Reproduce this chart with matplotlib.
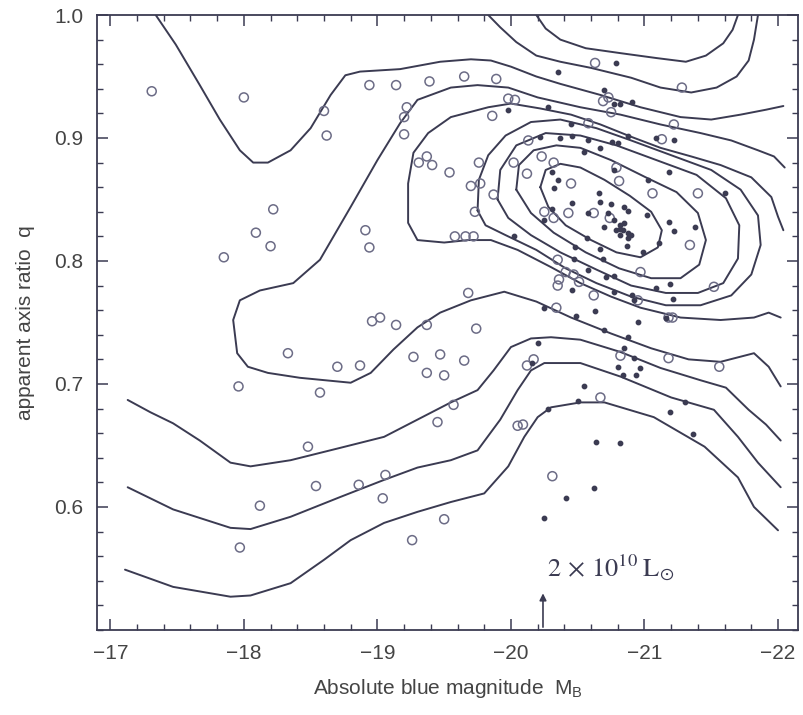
import matplotlib
matplotlib.use("Agg")
import matplotlib.pyplot as plt
from matplotlib.ticker import MultipleLocator

plt.rcParams.update({"font.family": ["Liberation Sans", "DejaVu Sans"], "font.size": 15,
                     "xtick.direction": "in", "ytick.direction": "in",
                     "xtick.top": True, "ytick.right": True})

ink = "#3b3b52"
ring = "#6c6c86"

# open circles (M_B, q)
open_mb = [-17.31, -18.00, -18.60, -18.62, -18.94, -19.14, -18.22, -18.09, -18.20, -17.85,
           -18.91, -18.94, -18.96, -19.02, -19.14, -18.33, -18.70, -18.87, -17.96, -18.57,
           -18.48, -18.54, -18.86, -19.06, -19.04, -18.12, -17.97, -19.39, -19.65, -19.89,
           -19.98, -20.03, -19.22, -19.20, -19.20, -19.86, -19.31, -19.37, -19.41, -19.54,
           -19.76, -19.70, -19.77, -19.87, -19.73, -20.02, -20.12, -20.13, -20.23, -20.32,
           -20.45, -20.25, -20.32, -20.43, -19.58, -19.66, -19.72, -20.35, -20.41, -20.36,
           -20.35, -20.47, -20.51, -19.68, -20.34, -19.37, -19.74, -20.63, -21.28, -20.73,
           -20.69, -20.75, -20.58, -21.22, -21.13, -20.79, -20.81, -21.06, -21.40, -20.62,
           -20.74, -21.34, -20.97, -21.52, -20.62, -20.95, -21.21, -21.18, -19.27, -19.47,
           -19.65, -19.37, -19.50, -19.57, -19.45, -20.12, -20.17, -20.05, -20.09, -20.31,
           -19.50, -19.26, -20.82, -21.18, -21.56, -20.67]
open_q = [0.938, 0.933, 0.922, 0.902, 0.943, 0.943, 0.842, 0.823, 0.812, 0.803,
          0.825, 0.811, 0.751, 0.754, 0.748, 0.725, 0.714, 0.715, 0.698, 0.693,
          0.649, 0.617, 0.618, 0.626, 0.607, 0.601, 0.567, 0.946, 0.950, 0.948,
          0.932, 0.931, 0.925, 0.917, 0.903, 0.918, 0.880, 0.885, 0.878, 0.872,
          0.880, 0.861, 0.863, 0.854, 0.840, 0.880, 0.871, 0.898, 0.885, 0.880,
          0.863, 0.840, 0.835, 0.839, 0.820, 0.820, 0.820, 0.801, 0.791, 0.785,
          0.780, 0.789, 0.783, 0.774, 0.762, 0.748, 0.745, 0.961, 0.941, 0.933,
          0.930, 0.921, 0.912, 0.911, 0.899, 0.876, 0.865, 0.855, 0.855, 0.839,
          0.835, 0.813, 0.791, 0.779, 0.772, 0.768, 0.754, 0.754, 0.722, 0.724,
          0.719, 0.709, 0.707, 0.683, 0.669, 0.715, 0.720, 0.666, 0.667, 0.625,
          0.590, 0.573, 0.723, 0.721, 0.714, 0.689]

# filled dots (M_B, q)
dot_mb = [-20.35, -20.79, -20.70, -20.77, -20.82, -20.91, -19.98, -20.28, -20.45, -20.46,
          -20.22, -20.37, -20.58, -20.67, -20.76, -20.80, -20.88, -21.09, -21.22, -20.55,
          -20.31, -20.35, -20.32, -21.18, -21.03, -21.60, -20.77, -20.66, -20.67, -20.46,
          -20.58, -20.31, -20.25, -20.75, -20.85, -20.88, -20.73, -20.77, -20.70, -20.79,
          -20.82, -20.84, -20.88, -20.88, -20.90, -20.82, -20.85, -20.82, -21.02, -21.18,
          -21.22, -21.38, -21.11, -20.99, -20.87, -20.67, -20.57, -20.48, -20.47, -20.69,
          -20.02, -20.58, -20.71, -20.77, -21.19, -21.09, -20.46, -20.77, -20.91, -20.92,
          -21.21, -20.25, -20.49, -20.63, -20.95, -21.16, -20.70, -20.20, -20.16, -20.88,
          -20.85, -20.92, -20.97, -20.80, -20.84, -20.94, -20.55, -20.50, -20.28, -21.30,
          -21.19, -21.36, -20.64, -20.82, -20.62, -20.41, -20.25]
dot_q = [0.954, 0.961, 0.939, 0.928, 0.928, 0.929, 0.923, 0.925, 0.911, 0.902,
         0.901, 0.900, 0.898, 0.892, 0.897, 0.896, 0.902, 0.900, 0.898, 0.889,
         0.872, 0.866, 0.859, 0.872, 0.866, 0.855, 0.874, 0.855, 0.848, 0.847,
         0.839, 0.842, 0.833, 0.846, 0.844, 0.841, 0.839, 0.833, 0.828, 0.825,
         0.829, 0.825, 0.823, 0.819, 0.821, 0.826, 0.831, 0.821, 0.837, 0.832,
         0.824, 0.828, 0.815, 0.807, 0.812, 0.810, 0.819, 0.811, 0.802, 0.802,
         0.820, 0.793, 0.787, 0.788, 0.781, 0.778, 0.776, 0.775, 0.772, 0.768,
         0.769, 0.762, 0.755, 0.759, 0.750, 0.754, 0.744, 0.733, 0.717, 0.738,
         0.729, 0.721, 0.713, 0.714, 0.707, 0.707, 0.698, 0.686, 0.680, 0.685,
         0.677, 0.659, 0.653, 0.652, 0.615, 0.607, 0.591]

# contour lines as (M_B, q) vertices
contours = {
    "L1": ([-17.34, -17.49, -17.67, -17.82, -17.97, -18.07, -18.18, -18.35, -18.50, -18.65, -18.76,
            -18.87, -19.17, -19.47, -19.70, -19.85, -20.00, -20.19, -20.37, -20.67, -20.97, -21.27,
            -21.50, -21.72, -21.91, -22.04],
           [1.000, 0.976, 0.943, 0.915, 0.890, 0.880, 0.880, 0.890, 0.908, 0.935, 0.951,
            0.954, 0.956, 0.962, 0.964, 0.963, 0.958, 0.950, 0.944, 0.935, 0.925, 0.917,
            0.915, 0.919, 0.923, 0.926]),
    "U2": ([-19.83, -19.92, -20.04, -20.19, -20.37, -20.60, -20.90, -21.12, -21.35, -21.54, -21.69,
            -21.78, -21.82, -21.85],
           [1.000, 0.990, 0.978, 0.967, 0.962, 0.957, 0.949, 0.941, 0.937, 0.941, 0.950,
            0.963, 0.980, 1.000]),
    "U1": ([-20.19, -20.26, -20.37, -20.56, -20.82, -21.09, -21.31, -21.46, -21.59, -21.66, -21.70],
           [1.000, 0.989, 0.980, 0.973, 0.969, 0.965, 0.962, 0.967, 0.977, 0.988, 1.000]),
    "L2": ([-22.05, -21.97, -21.85, -21.65, -21.42, -21.12, -20.82, -20.52, -20.20, -19.98, -19.75,
            -19.55, -19.30, -19.17, -19.00, -18.80, -18.57, -18.37, -18.12, -17.97, -17.92, -17.95,
            -18.03, -18.18, -18.42, -18.80, -18.95, -19.12, -19.30, -19.47, -19.70, -19.95, -20.19,
            -20.45, -20.75, -21.05, -21.33, -21.57, -21.82, -21.93, -22.02],
           [0.876, 0.885, 0.890, 0.898, 0.904, 0.911, 0.919, 0.925, 0.933, 0.941, 0.943,
            0.941, 0.931, 0.912, 0.882, 0.844, 0.801, 0.782, 0.776, 0.768, 0.752, 0.725,
            0.714, 0.709, 0.705, 0.701, 0.709, 0.728, 0.746, 0.758, 0.768, 0.775, 0.767,
            0.754, 0.741, 0.729, 0.720, 0.718, 0.725, 0.714, 0.698]),
    "L3": ([-22.04, -22.00, -21.95, -21.80, -21.57, -21.35, -21.12, -20.90, -20.67, -20.45, -20.22,
            -20.00, -19.83, -19.55, -19.38, -19.27, -19.23, -19.23, -19.30, -19.50, -19.68, -19.85,
            -20.05, -20.30, -20.52, -20.75, -20.97, -21.27, -21.57, -21.82, -21.93, -22.02],
           [0.825, 0.836, 0.852, 0.868, 0.878, 0.885, 0.892, 0.901, 0.911, 0.919, 0.924,
            0.928, 0.925, 0.917, 0.904, 0.888, 0.863, 0.831, 0.817, 0.815, 0.817, 0.817,
            0.809, 0.795, 0.782, 0.771, 0.762, 0.754, 0.752, 0.754, 0.758, 0.754]),
    "C4": ([-19.75, -19.76, -19.83, -19.96, -20.15, -20.37, -20.64, -20.90, -21.20, -21.50, -21.72,
            -21.85, -21.87, -21.80, -21.65, -21.42, -21.16, -20.90, -20.64, -20.41, -20.19, -19.96,
            -19.81, -19.75],
           [0.841, 0.866, 0.886, 0.902, 0.913, 0.915, 0.908, 0.898, 0.886, 0.874, 0.858,
            0.837, 0.813, 0.789, 0.772, 0.764, 0.764, 0.771, 0.782, 0.794, 0.809, 0.821,
            0.829, 0.841]),
    "C3": ([-19.90, -19.92, -20.04, -20.26, -20.52, -20.79, -21.09, -21.39, -21.61, -21.71, -21.70,
            -21.59, -21.40, -21.16, -20.90, -20.64, -20.37, -20.15, -19.98, -19.90],
           [0.850, 0.874, 0.894, 0.904, 0.902, 0.894, 0.882, 0.870, 0.851, 0.829, 0.802,
            0.782, 0.774, 0.774, 0.780, 0.793, 0.807, 0.821, 0.835, 0.850]),
    "C2": ([-20.04, -20.06, -20.17, -20.34, -20.52, -20.75, -21.01, -21.24, -21.40, -21.46, -21.41,
            -21.27, -21.05, -20.81, -20.56, -20.32, -20.15, -20.04],
           [0.858, 0.878, 0.890, 0.894, 0.892, 0.882, 0.868, 0.856, 0.839, 0.817, 0.797,
            0.786, 0.786, 0.794, 0.807, 0.823, 0.839, 0.858]),
    "C1": ([-20.22, -20.26, -20.37, -20.52, -20.70, -20.89, -21.05, -21.13, -21.10, -20.97, -20.79,
            -20.60, -20.41, -20.28, -20.22],
           [0.860, 0.874, 0.879, 0.876, 0.866, 0.853, 0.840, 0.825, 0.811, 0.803, 0.807,
            0.817, 0.829, 0.844, 0.860]),
    "B1": ([-17.13, -17.30, -17.47, -17.67, -17.90, -18.05, -18.35, -18.72, -19.05, -19.30, -19.55,
            -19.75, -19.87, -20.00, -20.15, -20.30, -20.52, -20.82, -21.12, -21.42, -21.61, -21.78,
            -21.91, -22.02],
           [0.687, 0.677, 0.668, 0.654, 0.636, 0.633, 0.638, 0.648, 0.657, 0.671, 0.685,
            0.695, 0.711, 0.730, 0.737, 0.738, 0.736, 0.726, 0.713, 0.703, 0.697, 0.679,
            0.667, 0.654]),
    "B2": ([-17.13, -17.47, -17.90, -18.05, -18.35, -18.72, -19.05, -19.30, -19.55, -19.75, -19.92,
            -20.05, -20.15, -20.25, -20.52, -20.82, -21.20, -21.52, -21.70, -21.85, -22.02],
           [0.616, 0.598, 0.583, 0.582, 0.592, 0.608, 0.622, 0.632, 0.638, 0.646, 0.671,
            0.695, 0.711, 0.717, 0.717, 0.706, 0.689, 0.679, 0.657, 0.636, 0.616]),
    "B3": ([-17.11, -17.47, -17.90, -18.05, -18.35, -18.60, -18.80, -19.05, -19.30, -19.55, -19.80,
            -19.98, -20.10, -20.20, -20.30, -20.52, -20.70, -21.07, -21.45, -21.70, -21.82, -22.00],
           [0.549, 0.535, 0.527, 0.528, 0.538, 0.557, 0.573, 0.587, 0.596, 0.604, 0.611,
            0.633, 0.657, 0.673, 0.681, 0.685, 0.685, 0.673, 0.649, 0.624, 0.600, 0.581]),
}

arrow_mb = -20.24
arrow_label = r"$2\,\times\,10^{10}\;\mathrm{L}_{\odot}$"

fig = plt.figure(figsize=(8.04, 7.15), dpi=100)
ax = fig.add_axes([0.1206, 0.119, 0.872, 0.860])

for name, (xs, ys) in contours.items():
    ax.plot(xs, ys, color=ink, lw=1.4, solid_capstyle="round", solid_joinstyle="round")

ax.scatter(open_mb, open_q, s=42, facecolors="none", edgecolors=ring, linewidths=1.1, zorder=3)
ax.scatter(dot_mb, dot_q, s=10, color=ink, zorder=3)

ax.annotate("", xy=(arrow_mb, 0.5), xytext=(arrow_mb, 0.532),
            arrowprops=dict(arrowstyle="<|-", color=ink, lw=1.2, mutation_scale=10))
ax.text(arrow_mb - 0.03, 0.538, arrow_label, fontsize=19, color=ink, ha="left", va="bottom",
        math_fontfamily="stix")

ax.set_xlim(-16.9, -22.15)
ax.set_ylim(0.5, 1.0)
ax.set_xticks([-17, -18, -19, -20, -21, -22])
ax.set_xticklabels(["\u221217", "\u221218", "\u221219", "\u221220", "\u221221", "\u221222"])
ax.set_yticks([0.6, 0.7, 0.8, 0.9, 1.0])
ax.xaxis.set_minor_locator(MultipleLocator(0.2))
ax.yaxis.set_minor_locator(MultipleLocator(0.02))
ax.tick_params(which="major", length=8, width=1.1, color=ink, labelcolor="#444444", pad=10)
ax.tick_params(which="minor", length=4, width=1.0, color=ink)
for s in ax.spines.values():
    s.set_color(ink)
    s.set_linewidth(1.3)

ax.set_xlabel("Absolute blue magnitude  M$_\\mathregular{B}$", color="#444444", labelpad=10)
ax.set_ylabel("apparent axis ratio  q", color="#444444", labelpad=14)

fig.savefig("out.png", dpi=100)
